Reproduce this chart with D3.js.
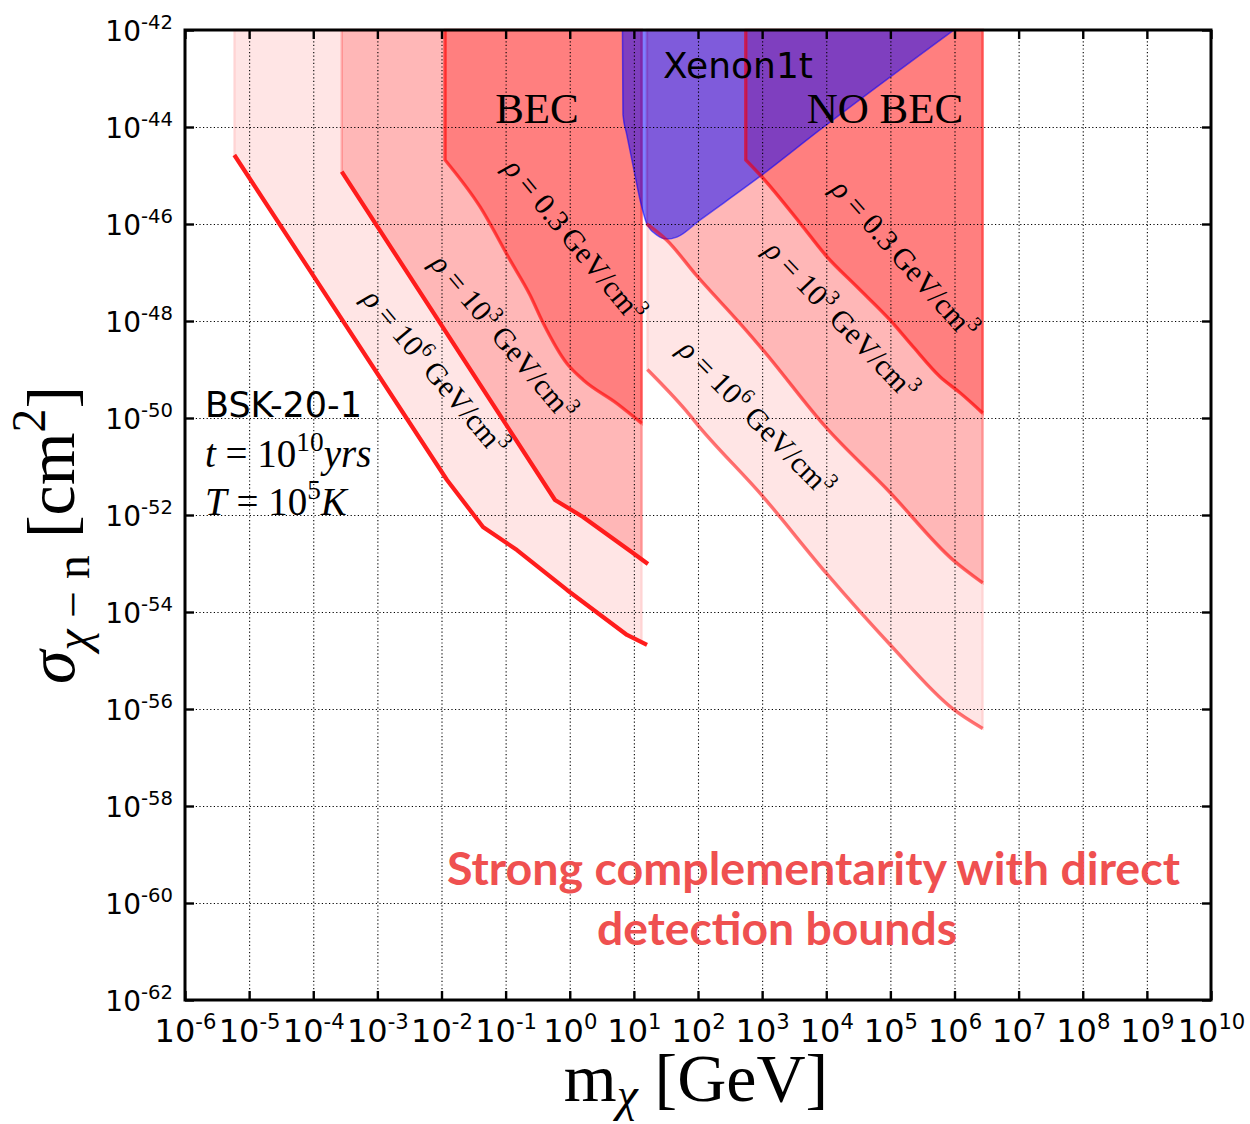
<!DOCTYPE html>
<html>
<head>
<meta charset="utf-8">
<script src="https://cdn.jsdelivr.net/npm/d3@7"></script>
<style>
  body { margin: 0; background: #fff; }
  svg { display: block; }
</style>
</head>
<body>
<svg id="chart" width="1250" height="1124"></svg>
<script>
// ---- tick exponents --------------------------------------------------------
const xTickExp = d3.range(-6, 11);          // 10^-6 ... 10^10 GeV
const yTickExp = d3.range(-42, -63, -2);    // 10^-42 ... 10^-62 cm^2

// ---- exclusion curves: log10(m / GeV) and log10(sigma / cm^2) ---------------
// BEC, rho = 10^6 GeV/cm^3
const becRho6LogM = [-5.231, -1.914, -1.353, -0.823, -0.043, 0.893, 1.205];
const becRho6LogS = [-44.577, -51.278, -52.247, -52.722, -53.546, -54.474, -54.68];
// BEC, rho = 10^3 GeV/cm^3
const becRho3LogM = [-3.556, -0.230, 0.207, 0.986, 1.220];
const becRho3LogS = [-44.92, -51.691, -52.041, -52.784, -53.01];
// BEC, rho = 0.3 GeV/cm^3
const becRho03LogM = [-1.945, -1.400, -0.932, -0.620, -0.413, -0.048, 0.211, 0.732, 1.122];
const becRho03LogS = [-44.68, -45.643, -46.742, -47.464, -48.047, -48.872, -49.216, -49.697, -50.109];
// upper mass edge of the BEC shaded regions
const becEdgeLogM = 1.122;

// NO BEC, rho = 10^6 GeV/cm^3
const noBecRho6LogM = [1.21, 1.82, 2.0, 3.0, 4.0, 5.0, 5.97, 6.44];
const noBecRho6LogS = [-49.0, -49.86, -50.15, -51.6, -53.2, -54.68, -55.99, -56.4];
// NO BEC, rho = 10^3 GeV/cm^3
const noBecRho3LogM = [1.20, 1.51, 1.976, 2.655, 3.015, 4.0, 4.99, 5.97, 6.44];
const noBecRho3LogS = [-46.0, -46.33, -47.06, -48.05, -48.6, -50.2, -51.53, -52.92, -53.4];
// NO BEC, rho = 0.3 GeV/cm^3
const noBecRho03LogM = [2.745, 2.993, 3.591, 4.007, 4.475, 4.995, 5.353, 5.774, 6.086, 6.44];
const noBecRho03LogS = [-44.68, -45.025, -45.98, -46.67, -47.29, -47.98, -48.53, -49.15, -49.48, -49.90];

// Xenon1t direct detection limit
const xenonLogM = [0.822, 0.83, 0.888, 0.991, 1.096, 1.20, 1.36, 1.516, 1.67, 2.03, 2.967, 3.90, 5.99];
const xenonLogS = [-42.0, -43.75, -44.15, -44.82, -45.5, -45.99, -46.23, -46.31, -46.27, -45.92, -45.02, -44.06, -42.0];

// ---- layout & scales -------------------------------------------------------
const plot = { left: 185, top: 30, right: 1211, bottom: 1000 };
const svg = d3.select("#chart");
svg.append("rect").attr("width", 1250).attr("height", 1124).attr("fill", "#fff");

const x = d3.scaleLog().domain([1e-6, 1e10]).range([plot.left, plot.right]);
const y = d3.scaleLog().domain([1e-62, 1e-42]).range([plot.bottom, plot.top]);
const X = lm => x(Math.pow(10, lm));
const Y = ls => y(Math.pow(10, ls));

const zip = (a, b) => a.map((v, i) => [v, b[i]]);

// cut a polyline (log-log) at a maximum mass
function truncate(pts, xmax) {
  const out = [];
  for (let i = 0; i < pts.length; i++) {
    const p = pts[i];
    if (p[0] <= xmax) { out.push(p); continue; }
    const q = pts[i - 1];
    const t = (xmax - q[0]) / (p[0] - q[0]);
    out.push([xmax, q[1] + t * (p[1] - q[1])]);
    break;
  }
  return out;
}

const layer = svg.append("g");

function band(pts, opacity, curve) {
  const area = d3.area()
    .x(d => X(d[0])).y0(plot.top).y1(d => Y(d[1]))
    .curve(curve);
  layer.append("path")
    .attr("d", area(pts))
    .attr("fill", "rgb(255,0,0)").attr("fill-opacity", opacity)
    .attr("stroke", "rgb(255,0,0)").attr("stroke-opacity", opacity)
    .attr("stroke-width", 2.5);
}

const becRho6 = zip(becRho6LogM, becRho6LogS);
const becRho3 = zip(becRho3LogM, becRho3LogS);
const becRho03 = zip(becRho03LogM, becRho03LogS);
const noBecRho6 = zip(noBecRho6LogM, noBecRho6LogS);
const noBecRho3 = zip(noBecRho3LogM, noBecRho3LogS);
const noBecRho03 = zip(noBecRho03LogM, noBecRho03LogS);
const xenon = zip(xenonLogM, xenonLogS);

// shaded excluded regions (above each curve)
band(truncate(becRho6, becEdgeLogM), 0.1, d3.curveLinear);
band(truncate(becRho3, becEdgeLogM), 0.2, d3.curveLinear);
band(becRho03, 0.3, d3.curveMonotoneX);
band(noBecRho6, 0.1, d3.curveMonotoneX);
band(noBecRho3, 0.2, d3.curveMonotoneX);
band(noBecRho03, 0.3, d3.curveMonotoneX);

// Xenon1t region
layer.append("path")
  .attr("d", d3.area().x(d => X(d[0])).y0(plot.top).y1(d => Y(d[1])).curve(d3.curveMonotoneX)(xenon))
  .attr("fill", "rgb(0,0,255)").attr("fill-opacity", 0.5);
layer.append("path")
  .attr("d", d3.line().x(d => X(d[0])).y(d => Y(d[1])).curve(d3.curveMonotoneX)(xenon))
  .attr("fill", "none").attr("stroke", "rgb(0,0,255)").attr("stroke-opacity", 0.55)
  .attr("stroke-width", 1.5);

// ---- grid ------------------------------------------------------------------
const grid = svg.append("g");
grid.append("g").attr("transform", `translate(0,${plot.bottom})`)
  .call(d3.axisBottom(x).tickValues(xTickExp.slice(1, -1).map(e => Math.pow(10, e)))
    .tickSize(-(plot.bottom - plot.top)).tickFormat(""))
  .call(g => g.select(".domain").remove());
grid.append("g").attr("transform", `translate(${plot.left},0)`)
  .call(d3.axisLeft(y).tickValues(yTickExp.slice(1, -1).map(e => Math.pow(10, e)))
    .tickSize(-(plot.right - plot.left)).tickFormat(""))
  .call(g => g.select(".domain").remove());
grid.selectAll("line").attr("stroke", "#000").attr("stroke-width", 1.1)
  .attr("stroke-dasharray", "1.2,2.4");

// ---- boundary lines ----------------------------------------------------------
function curveLine(pts, curve, color, opacity, width, fromTop) {
  let d = d3.line().x(p => X(p[0])).y(p => Y(p[1])).curve(curve)(pts);
  if (fromTop) d = `M${X(pts[0][0])},${plot.top}L` + d.slice(1);
  svg.append("path").attr("d", d).attr("fill", "none")
    .attr("stroke", color).attr("stroke-opacity", opacity)
    .attr("stroke-width", width).attr("stroke-linejoin", "round");
}
curveLine(becRho6, d3.curveLinear, "rgb(255,28,28)", 1, 4.2, false);
curveLine(becRho3, d3.curveLinear, "rgb(255,28,28)", 1, 4.2, false);
curveLine(becRho03, d3.curveMonotoneX, "rgb(255,0,0)", 0.5, 3.5, true);
curveLine(noBecRho6, d3.curveMonotoneX, "rgb(255,0,0)", 0.5, 3.5, false);
curveLine(noBecRho3, d3.curveMonotoneX, "rgb(255,0,0)", 0.5, 3.5, false);
curveLine(noBecRho03, d3.curveMonotoneX, "rgb(255,0,0)", 0.55, 3.5, true);

// ---- rich text helper (sub/superscripts) -----------------------------------
function rich(textSel, parts, size, subShift) {
  let shift = 0;
  const sub = subShift === undefined ? 0.22 : subShift;
  parts.forEach(p => {
    const s = p.sup ? -0.42 * size : p.sub ? sub * size : 0;
    const t = textSel.append("tspan").text(p.t)
      .attr("font-size", (p.sup || p.sub) ? size * (p.scale || 0.7) : size);
    if (s !== shift) { t.attr("dy", s - shift); shift = s; }
    if (p.it) t.attr("font-style", "italic");
  });
  return textSel;
}

const serif = "'Liberation Serif', 'Times New Roman', serif";
const sans = "'DejaVu Sans', sans-serif";

// density labels along the curves
const rhoLabels = [
  { cx: 571, cy: 243, a: 50.5, exp: null },
  { cx: 500, cy: 340, a: 50, exp: "3" },
  { cx: 432, cy: 375, a: 50, exp: "6" },
  { cx: 901, cy: 262, a: 48.3, exp: null },
  { cx: 838, cy: 323, a: 46.5, exp: "3" },
  { cx: 753, cy: 421, a: 45.5, exp: "6" }
];
rhoLabels.forEach(L => {
  const t = svg.append("text")
    .attr("transform", `translate(${L.cx},${L.cy}) rotate(${L.a})`)
    .attr("text-anchor", "middle").attr("dy", "0.35em")
    .attr("font-family", serif).attr("fill", "#000");
  const parts = [{ t: "ρ", it: true }, { t: " = " }];
  if (L.exp) parts.push({ t: "10" }, { t: L.exp, sup: true }, { t: " GeV/cm" });
  else parts.push({ t: "0.3" }, { t: "\u2009GeV/cm" });
  parts.push({ t: "3", sup: true });
  rich(t, parts, 30);
});

// region titles
svg.append("text").attr("x", 537).attr("y", 123).attr("text-anchor", "middle")
  .attr("font-family", serif).attr("font-size", 43).text("BEC");
svg.append("text").attr("x", 885).attr("y", 123).attr("text-anchor", "middle")
  .attr("font-family", serif).attr("font-size", 43).text("NO BEC");
svg.append("text").attr("x", 738).attr("y", 78).attr("text-anchor", "middle")
  .attr("font-family", sans).attr("font-size", 36).text("Xenon1t");

// star parameters
svg.append("text").attr("x", 205).attr("y", 417)
  .attr("font-family", sans).attr("font-size", 35).text("BSK-20-1");
rich(svg.append("text").attr("x", 205).attr("y", 467).attr("font-family", serif),
  [{ t: "t", it: true }, { t: " = 10" }, { t: "10", sup: true }, { t: "yrs", it: true }], 39);
rich(svg.append("text").attr("x", 205).attr("y", 515).attr("font-family", serif),
  [{ t: "T", it: true }, { t: " = 10" }, { t: "5", sup: true }, { t: "K", it: true }], 39);

// message
const msg = ["Strong complementarity with direct", "detection bounds"];
const msgBox = [{ x: 447, y: 885, w: 733 }, { x: 597, y: 945, w: 360 }];
msg.forEach((m, i) => {
  svg.append("text").attr("x", msgBox[i].x).attr("y", msgBox[i].y)
    .attr("font-family", "Lato, 'Open Sans', sans-serif").attr("font-weight", 700)
    .attr("font-size", 46).attr("fill", "#ef5050")
    .attr("textLength", msgBox[i].w).attr("lengthAdjust", "spacingAndGlyphs")
    .text(m);
});

// ---- axes --------------------------------------------------------------------
const axes = svg.append("g");
const xVals = xTickExp.map(e => Math.pow(10, e));
const yVals = yTickExp.map(e => Math.pow(10, e));
const axB = axes.append("g").attr("transform", `translate(0,${plot.bottom})`)
  .call(d3.axisBottom(x).tickValues(xVals).tickSize(-9).tickFormat(""));
axes.append("g").attr("transform", `translate(0,${plot.top})`)
  .call(d3.axisTop(x).tickValues(xVals).tickSize(-9).tickFormat(""));
const axL = axes.append("g").attr("transform", `translate(${plot.left},0)`)
  .call(d3.axisLeft(y).tickValues(yVals).tickSize(-9).tickFormat(""));
axes.append("g").attr("transform", `translate(${plot.right},0)`)
  .call(d3.axisRight(y).tickValues(yVals).tickSize(-9).tickFormat(""));
axes.selectAll(".domain").remove();
axes.selectAll(".tick line").attr("stroke", "#000").attr("stroke-width", 2.4);
axes.selectAll(".tick text").remove();

axB.selectAll(".tick").each(function (v, i) {
  const t = d3.select(this).append("text").attr("y", 42).attr("text-anchor", "middle")
    .attr("font-family", sans).attr("fill", "#000");
  rich(t, [{ t: "10" }, { t: String(xTickExp[i]), sup: true, scale: 0.66 }], 32);
});
axL.selectAll(".tick").each(function (v, i) {
  const t = d3.select(this).append("text").attr("x", -12).attr("y", 10)
    .attr("text-anchor", "end").attr("font-family", sans).attr("fill", "#000");
  rich(t, [{ t: "10" }, { t: String(yTickExp[i]), sup: true, scale: 0.7 }], 28);
});

// frame
axes.append("rect").attr("x", plot.left).attr("y", plot.top)
  .attr("width", plot.right - plot.left).attr("height", plot.bottom - plot.top)
  .attr("fill", "none").attr("stroke", "#000").attr("stroke-width", 3);

// axis titles
rich(svg.append("text").attr("x", 696).attr("y", 1101).attr("text-anchor", "middle")
  .attr("font-family", serif),
  [{ t: "m" }, { t: "χ", sub: true, it: true }, { t: " [GeV]" }], 68, 0.14);
rich(svg.append("text").attr("transform", "translate(74,535) rotate(-90)")
  .attr("text-anchor", "middle").attr("font-family", serif),
  [{ t: "σ", it: true }, { t: "χ", sub: true, it: true }, { t: " − n", sub: true },
   { t: " [cm" }, { t: "2", sup: true }, { t: "]" }], 68);
</script>
</body>
</html>
